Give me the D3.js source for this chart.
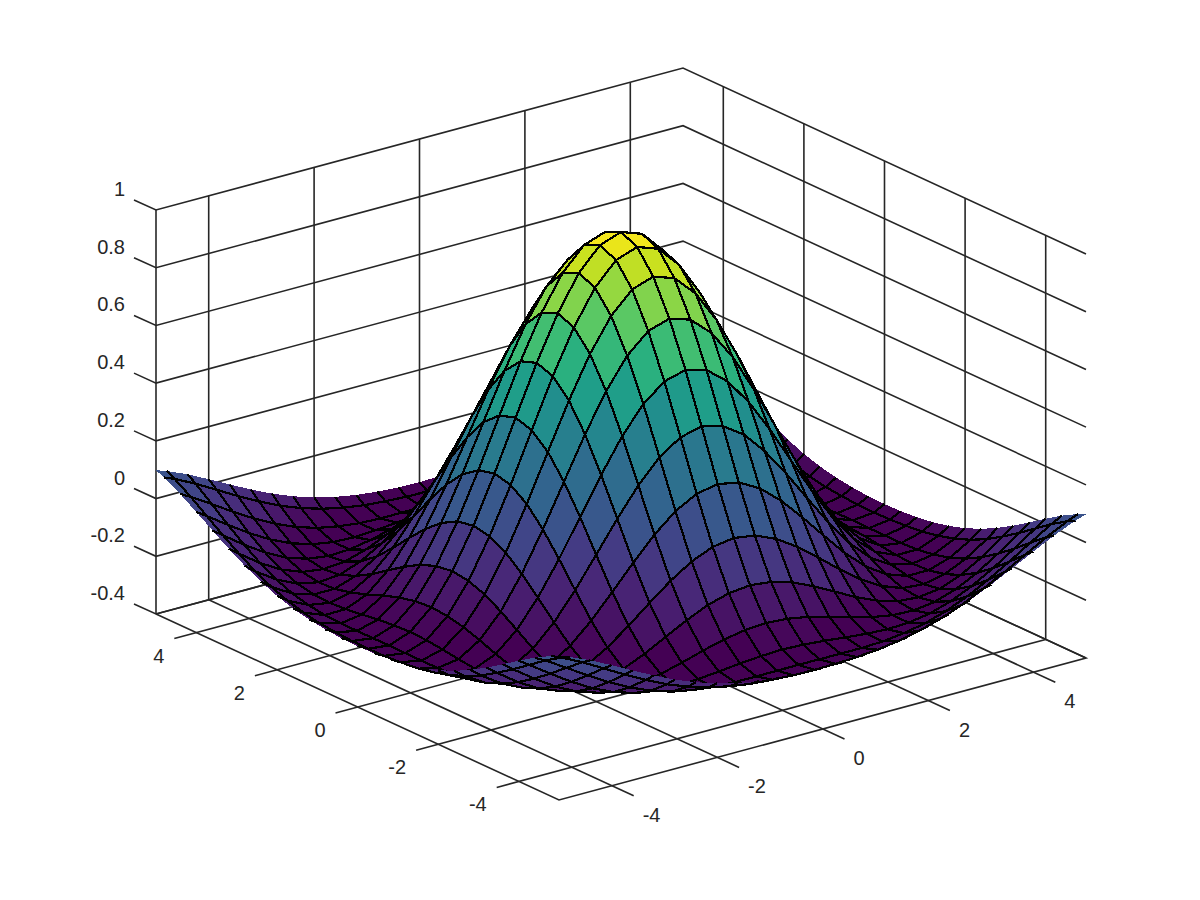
<!DOCTYPE html>
<html><head><meta charset="utf-8">
<script src="https://cdn.jsdelivr.net/npm/d3@7/dist/d3.min.js"></script>
<style>html,body{margin:0;padding:0;background:#fff}svg{display:block}text{font-family:"Liberation Sans",Arial,sans-serif;font-size:20px;fill:#262626}</style>
</head><body><svg id="chart" width="1200" height="900"></svg>
<script>
const xTicks=[-4,-2,0,2,4];
const yTicks=[-4,-2,0,2,4];
const zTicks=[-0.4,-0.2,0,0.2,0.4,0.6,0.8,1];
const gridValues=[-5.2,-4.8,-4.4,-4,-3.6,-3.2,-2.8,-2.4,-2,-1.6,-1.2,-0.8,-0.4,0,0.4,0.8,1.2,1.6,2,2.4,2.8,3.2,3.6,4,4.4,4.8,5.2];
// One quadrant of the height field (rows/columns = grid steps away from the centre)
const zQuadrant=[
[1,.974,.897,.777,.625,.455,.281,.120,-.018,-.123,-.189,-.216,-.208,-.170],
[.974,.948,.872,.754,.605,.437,.267,.109,-.026,-.128,-.192,-.217,-.207,-.168],
[.897,.872,.800,.688,.546,.388,.227,.078,-.047,-.141,-.198,-.217,-.203,-.162],
[.777,.754,.688,.585,.455,.310,.165,.031,-.080,-.160,-.206,-.217,-.197,-.152],
[.625,.605,.546,.455,.340,.214,.088,-.026,-.118,-.182,-.213,-.214,-.186,-.137],
[.455,.437,.388,.310,.214,.109,.006,-.086,-.157,-.201,-.217,-.205,-.170,-.117],
[.281,.267,.227,.165,.088,.006,-.074,-.141,-.189,-.214,-.214,-.191,-.148,-.092],
[.120,.109,.078,.031,-.026,-.086,-.141,-.184,-.211,-.217,-.202,-.168,-.120,-.062],
[-.018,-.026,-.047,-.080,-.118,-.157,-.189,-.211,-.217,-.207,-.179,-.137,-.085,-.029],
[-.123,-.128,-.141,-.160,-.182,-.201,-.214,-.217,-.207,-.183,-.146,-.099,-.047,.007],
[-.189,-.192,-.198,-.206,-.213,-.217,-.214,-.202,-.179,-.146,-.104,-.056,-.006,.042],
[-.216,-.217,-.217,-.217,-.214,-.205,-.191,-.168,-.137,-.099,-.056,-.010,.035,.074],
[-.208,-.207,-.203,-.197,-.186,-.170,-.148,-.120,-.085,-.047,-.006,.035,.071,.101],
[-.170,-.168,-.162,-.152,-.137,-.117,-.092,-.062,-.029,.007,.042,.074,.101,.119]];

const svg=d3.select("#chart");
const ox=559, oy=800;
const xToPxX=d3.scaleLinear([-5,5],[0,527]), xToPxY=d3.scaleLinear([-5,5],[0,-142]);
const yToPxX=d3.scaleLinear([-5,5],[0,-403]), yToPxY=d3.scaleLinear([-5,5],[0,-186]);
const zToPxY=d3.scaleLinear([-0.4,1],[0,-404]);
const px=(x,y,z)=>[ox+xToPxX(x)+yToPxX(y), oy+xToPxY(x)+yToPxY(y)+zToPxY(z)];
const line=d3.line();
const n=gridValues.length, mid=(n-1)/2;
const zAt=(i,j)=>zQuadrant[Math.abs(i-mid)][Math.abs(j-mid)];
const colour=d3.scaleQuantize().domain(d3.extent(zQuadrant.flat())).range(d3.quantize(d3.interpolateViridis,64));

const lo=-5,hi=5,zMin=-0.4,zMax=1;
const axes=svg.append("g").attr("fill","none").attr("stroke","#262626").attr("stroke-width",1.6);
const seg=(...pts)=>axes.append("path").attr("d",line(pts));
zTicks.forEach(z=>{
  const a=px(lo,hi,z);
  seg([a[0]-22,a[1]-10],a,px(hi,hi,z),px(hi,lo,z));
});
xTicks.forEach(x=>{
  seg(px(x,hi,zMin),px(x,hi,zMax));
  const e=px(x,lo,zMin);
  seg(px(x,hi,zMin),[e[0]+22,e[1]+10]);
});
yTicks.forEach(y=>{
  seg(px(hi,y,zMin),px(hi,y,zMax));
  const e=px(lo,y,zMin);
  seg(px(hi,y,zMin),[e[0]-22,e[1]+6]);
});
seg(px(lo,hi,zMin),px(lo,hi,zMax));
seg(px(lo,hi,zMin),px(lo,lo,zMin),px(hi,lo,zMin),px(hi,hi,zMin),px(lo,hi,zMin));

// clipping of the surface to the axis box, in data space
const mix=(a,b,t)=>a.map((v,k)=>v+(b[k]-v)*t);
function clipPoly(poly){
  let out=poly;
  [[0,lo,1],[0,hi,-1],[1,lo,1],[1,hi,-1]].forEach(([k,b,s])=>{
    const res=[];
    out.forEach((p,idx)=>{
      const q=out[(idx+1)%out.length];
      const dp=s*(p[k]-b), dq=s*(q[k]-b);
      if(dp>=0)res.push(p);
      if(dp*dq<0)res.push(mix(p,q,dp/(dp-dq)));
    });
    out=res;
  });
  return out;
}
function clipSeg(a,b){
  let t0=0,t1=1;
  for(const [k,bd,s] of [[0,lo,1],[0,hi,-1],[1,lo,1],[1,hi,-1]]){
    const da=s*(a[k]-bd), db=s*(b[k]-bd);
    if(da<0&&db<=0)return null;
    if(db<0&&da<=0)return null;
    if(da<0)t0=Math.max(t0,da/(da-db));
    if(db<0)t1=Math.min(t1,da/(da-db));
  }
  return t0<t1?[mix(a,b,t0),mix(a,b,t1)]:null;
}
const V=(a,b)=>[gridValues[a],gridValues[b],zAt(a,b)];
const proj=p=>px(p[0],p[1],p[2]);

// surface, far to near
const ops=[];
for(let i=n-2;i>=0;i--)for(let j=n-2;j>=0;j--){
  const c=[V(i,j),V(i+1,j),V(i+1,j+1),V(i,j+1)];
  const poly=clipPoly(c);
  if(poly.length<3)continue;
  ops.push({d:line(poly.map(proj))+"Z",fill:colour(zAt(i,j)),stroke:"none"});
  const segs=c.map((p,k)=>clipSeg(p,c[(k+1)%4])).filter(s=>s);
  // edges lying exactly on the clip planes are not drawn
  const d=segs.filter(s=>!(s[0][0]===s[1][0]&&Math.abs(s[0][0])>=5)&&!(s[0][1]===s[1][1]&&Math.abs(s[0][1])>=5))
              .map(s=>line(s.map(proj))).join("");
  if(d)ops.push({d,fill:"none",stroke:"#000"});
}
svg.append("g").attr("shape-rendering","crispEdges").selectAll("path").data(ops).join("path")
 .attr("d",o=>o.d).attr("fill",o=>o.fill).attr("stroke",o=>o.stroke).attr("stroke-width",2.2);

// labels
const labels=svg.append("g");
zTicks.forEach(z=>{const p=px(lo,hi,z);
  labels.append("text").attr("x",125).attr("y",p[1]-14).attr("text-anchor","end").text(String(z));});
xTicks.forEach(x=>{const p=px(x,lo,zMin);
  labels.append("text").attr("x",p[0]+31).attr("y",p[1]+36).attr("text-anchor","start").text(String(x));});
yTicks.forEach(y=>{const p=px(lo,y,zMin);
  labels.append("text").attr("x",p[0]-32).attr("y",p[1]+30).attr("text-anchor","end").text(String(y));});
</script></body></html>
